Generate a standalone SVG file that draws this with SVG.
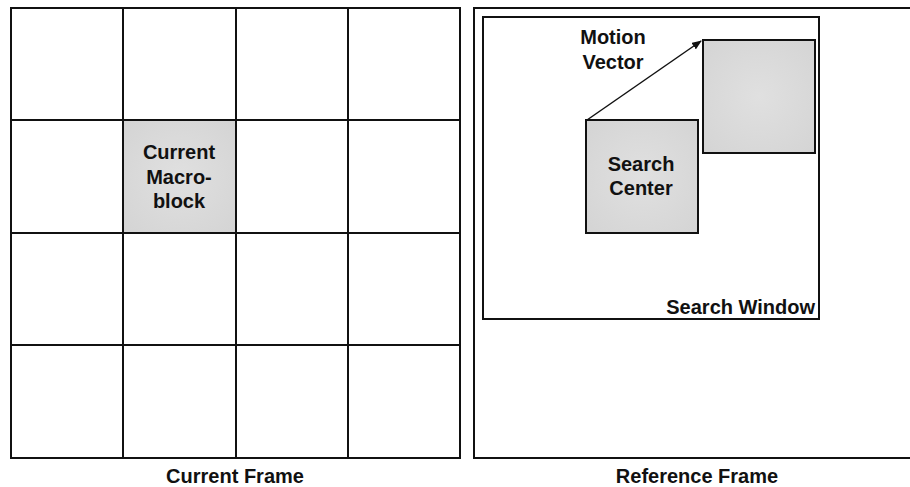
<svg xmlns="http://www.w3.org/2000/svg" width="910" height="487" viewBox="0 0 910 487">
  <defs>
    <radialGradient id="blockFill" cx="50%" cy="50%" r="70%">
      <stop offset="0" stop-color="#e0e0e0"/>
      <stop offset="1" stop-color="#d4d4d4"/>
    </radialGradient>
    <marker id="arrowHead" markerWidth="10" markerHeight="8" refX="9" refY="4" orient="auto" markerUnits="userSpaceOnUse">
      <path d="M0,0 L10,4 L0,8 Z" fill="#111"/>
    </marker>
    <style>
      .frame { fill: #fff; stroke: #111; stroke-width: 2; }
      .grid { stroke: #111; stroke-width: 2; fill: none; }
      .block { fill: url(#blockFill); stroke: #111; stroke-width: 2; }
      .label { font-family: "Liberation Sans", Arial, sans-serif; font-weight: bold; font-size: 20px; fill: #111; }
      .mid { text-anchor: middle; }
    </style>
  </defs>
  <rect width="910" height="487" fill="#fff"/>

  <!-- Current frame: 4x4 grid of macroblocks -->
  <g id="current-frame">
    <rect class="frame" x="11" y="8" width="449" height="450"/>
    <rect x="124" y="121" width="111" height="111" fill="url(#blockFill)"/>
    <path class="grid" d="M123,8 V458 M236,8 V458 M348,8 V458 M11,120 H460 M11,233 H460 M11,345 H460"/>
    <text class="label mid" x="235" y="483">Current Frame</text>
  </g>

  <g id="current-macroblock">
    <text class="label mid" x="179" y="159">Current</text>
    <text class="label mid" x="179" y="184">Macro-</text>
    <text class="label mid" x="179" y="208">block</text>
  </g>

  <!-- Reference frame, running off the right edge -->
  <g id="reference-frame">
    <rect class="frame" x="474" y="8" width="460" height="450"/>
    <text class="label mid" x="697" y="483">Reference Frame</text>
  </g>

  <g id="search-window">
    <rect class="frame" x="483" y="17" width="336" height="302"/>
    <text class="label" x="815" y="314" text-anchor="end">Search Window</text>
  </g>

  <g id="search-center">
    <rect class="block" x="586" y="120" width="112" height="113"/>
    <text class="label mid" x="641" y="171">Search</text>
    <text class="label mid" x="641" y="195">Center</text>
  </g>

  <g id="best-match">
    <rect class="block" x="703" y="40" width="112" height="113"/>
  </g>

  <g id="connectors">
    <line x1="587" y1="120" x2="701" y2="41" stroke="#111" stroke-width="1.5" marker-end="url(#arrowHead)"/>
    <text class="label mid" x="613" y="44">Motion</text>
    <text class="label mid" x="613" y="69">Vector</text>
  </g>
</svg>
